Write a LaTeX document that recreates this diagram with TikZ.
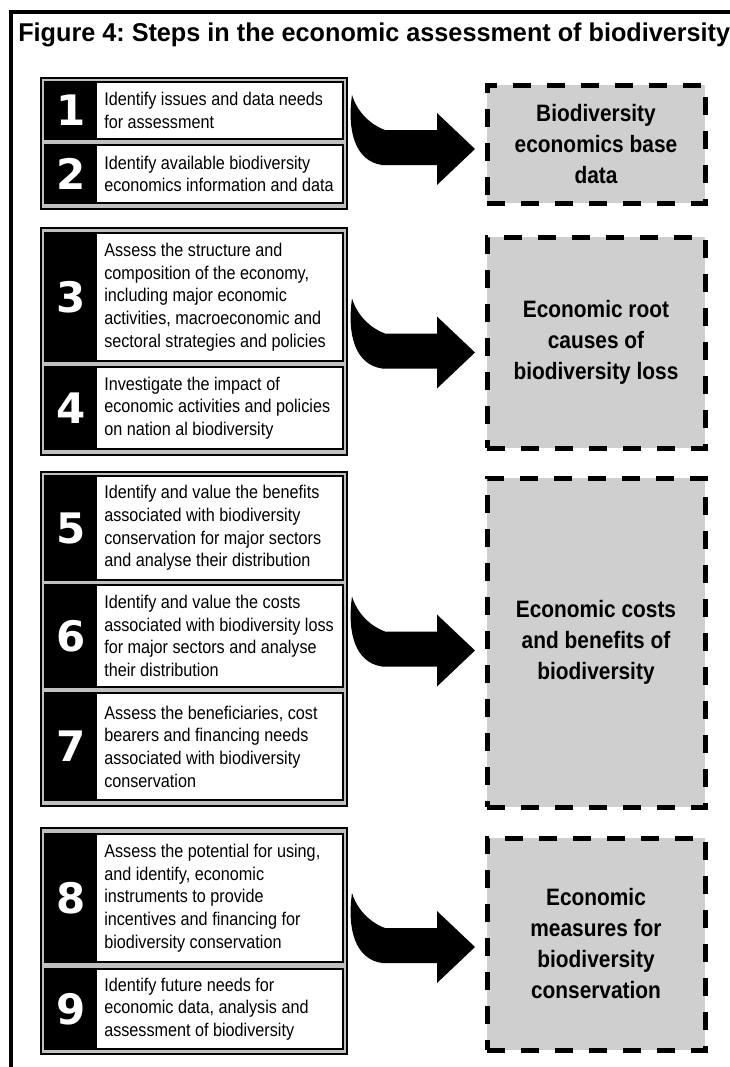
\documentclass[tikz,border=0pt]{standalone}
\usepackage{fontspec}
\setmainfont{Liberation Sans}
\newfontfamily\narrowfont[FakeStretch=0.88]{Liberation Sans}
\newfontfamily\titlefont[FakeStretch=0.98]{Liberation Sans}
\newfontfamily\numfont{DejaVu Sans}
\definecolor{framegray}{HTML}{C0C0C0}
\definecolor{boxgray}{HTML}{CFCFCF}
\frenchspacing
\tikzset{
	groupbox/.style={draw=black, fill=framegray, line width=0.9pt},
	stepbox/.style={draw=black, fill=white, line width=1pt},
	num/.style={font=\numfont\bfseries\fontsize{31.5pt}{33pt}\selectfont, text=white, inner sep=0},
	steptext/.style={font=\narrowfont\fontsize{13.8pt}{17pt}\selectfont, align=left, anchor=west, inner sep=0},
	resultbox/.style={draw=black, fill=boxgray, line width=3.75pt, dash pattern=on 13.5pt off 12pt,
		outer sep=0, inner sep=0, minimum width=163.5pt, align=center,
		font=\narrowfont\bfseries\fontsize{17.8pt}{23.25pt}\selectfont}
}

\begin{document}
\begin{tikzpicture}[x=0.75pt, y=-0.75pt]
	\useasboundingbox (0,0) rectangle (730,1067);
	%frame
	\draw[line width=2.3pt] (11,1067) -- (11,12) -- (730,12);
	\node[anchor=base west, inner sep=0, font=\titlefont\bfseries\fontsize{19.3pt}{21pt}\selectfont] (title) at (18,41)
		{Figure 4: Steps in the economic assessment of biodiversity};
	%groups of steps
	\foreach \top/\bot in {78/209, 228/455, 472/806, 828/1054}
		\draw[groupbox] (41,\top) rectangle (347,\bot);
	\foreach \n/\top/\bot/\txt in {
			1/82/139/{Identify issues and data needs\\for assessment},
			2/145/203/{Identify available biodiversity\\economics information and data},
			3/233/361/{Assess the structure and\\composition of the economy,\\including major economic\\activities, macroeconomic and\\sectoral strategies and policies},
			4/367/449/{Investigate the impact of\\economic activities and policies\\on nation al biodiversity},
			5/476/580/{Identify and value the benefits\\associated with biodiversity\\conservation for major sectors\\and analyse their distribution},
			6/585/687/{Identify and value the costs\\associated with biodiversity loss\\for major sectors and analyse\\their distribution},
			7/693/800/{Assess the beneficiaries, cost\\bearers and financing needs\\associated with biodiversity\\conservation},
			8/834/962/{Assess the potential for using,\\and identify, economic\\instruments to provide\\incentives and financing for\\biodiversity conservation},
			9/969/1049/{Identify future needs for\\economic data, analysis and\\assessment of biodiversity}}
	{
		\draw[stepbox] (45,\top) rectangle (343,\bot);
		\fill (45,\top) rectangle (97,\bot);
		\node[num] (n\n) at (71,{(\top+\bot)/2}) {\n};
		\node[steptext] (s\n) at (104,{(\top+\bot)/2}) {\txt};
	}
	%result boxes
	\foreach \i/\top/\bot/\txt in {
			1/85/203/{Biodiversity\\economics base\\data},
			2/237/448/{Economic root\\causes of\\biodiversity loss},
			3/478/807/{Economic costs\\and benefits of\\biodiversity},
			4/838/1050/{Economic\\measures for\\biodiversity\\conservation}}
		\node[resultbox, minimum height={(\bot-\top)*0.75pt}] (b\i) at (596,{(\top+\bot)/2}) {\txt};
	%arrows
	\foreach \i/\dy in {1/5, 2/10, 3/8, 4/3}
		\fill[shift={(b\i.west)}, shift={(-12,\dy)}] (0,0) -- (-38,-36) -- (-38,-19) -- (-90,-19)
			.. controls (-106,-25) and (-118,-38) .. (-123,-54)
			.. controls (-128,-18) and (-120,12) .. (-93,16) -- (-38,16) -- (-38,36) -- cycle;
\end{tikzpicture}
\end{document}
